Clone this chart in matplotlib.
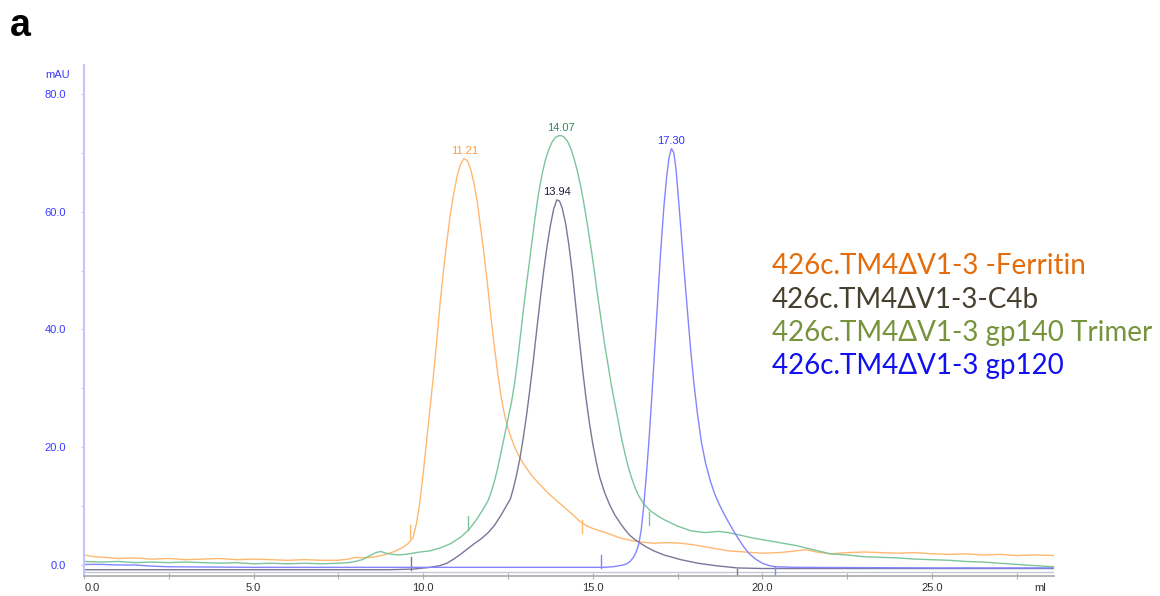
import matplotlib
matplotlib.use('Agg')
import matplotlib.pyplot as plt
from matplotlib.ticker import MultipleLocator, FormatStrFormatter, FuncFormatter

# ---------------- data (ml, mAU) ----------------
ferritin_x = [0.0, 0.3, 0.6, 1.0, 1.5, 2.0, 2.5, 3.0, 3.5, 4.0, 4.5, 5.0, 5.5, 6.0,
              6.5, 7.0, 7.5, 7.8, 8.0, 8.3, 8.6, 8.9, 9.2, 9.4, 9.55, 9.7, 9.8, 9.9,
              10.0, 10.1, 10.2, 10.3, 10.4, 10.5, 10.6, 10.7, 10.8, 10.9, 11.0, 11.1,
              11.2, 11.3, 11.4, 11.5, 11.6, 11.7, 11.8, 11.9, 12.0, 12.1, 12.2, 12.3,
              12.4, 12.5, 12.6, 12.7, 12.85, 13.0, 13.2, 13.4, 13.6, 13.8, 14.0, 14.2,
              14.4, 14.6, 14.8, 15.0, 15.2, 15.43, 15.8, 16.1, 16.4, 16.8, 17.2, 17.6,
              18.0, 18.5, 19.0, 19.5, 20.0, 20.5, 21.0, 21.3, 21.6, 22.0, 22.5, 23.0,
              23.5, 24.0, 24.5, 25.0, 25.5, 26.0, 26.5, 27.0, 27.5, 28.0, 28.6]
ferritin_y = [1.7, 1.4, 1.3, 1.1, 1.2, 1.0, 1.1, 0.9, 1.0, 1.1, 0.9, 1.0, 0.9, 0.8,
              0.9, 0.8, 0.8, 1.0, 1.3, 1.2, 1.4, 1.8, 2.4, 3.0, 3.6, 4.6, 7.0, 10.5,
              15.5, 21.0, 26.5, 32.0, 38.0, 44.5, 50.0, 55.0, 59.5, 63.0, 66.0, 68.0,
              69.0, 68.7, 67.2, 64.8, 61.5, 57.0, 52.5, 47.5, 42.0, 37.0, 32.5, 28.5,
              25.5, 23.2, 21.5, 20.0, 18.2, 16.8, 15.2, 13.9, 12.7, 11.6, 10.6, 9.6,
              8.6, 7.5, 6.7, 6.2, 5.8, 5.4, 4.6, 4.2, 3.9, 3.7, 3.8, 3.7,
              3.4, 2.9, 2.4, 2.2, 2.0, 2.1, 2.4, 2.6, 2.2, 1.9, 2.1, 2.2,
              2.1, 2.0, 2.1, 1.9, 1.8, 1.9, 1.7, 1.8, 1.6, 1.7, 1.6]

c4b_x = [0.0, 3.0, 6.0, 9.0, 9.7, 10.2, 10.5, 10.7, 10.9, 11.1, 11.3, 11.5, 11.7,
         11.9, 12.1, 12.3, 12.45, 12.57, 12.65, 12.75, 12.85, 12.95, 13.05, 13.15,
         13.25, 13.35, 13.45, 13.55, 13.65, 13.75, 13.85, 13.94, 14.02, 14.1, 14.2,
         14.3, 14.4, 14.5, 14.6, 14.7, 14.8, 14.9, 15.0, 15.1, 15.2, 15.35, 15.5,
         15.65, 15.8, 15.95, 16.1, 16.25, 16.4, 16.6, 16.8, 17.1, 17.6, 18.1, 18.6,
         19.26, 20.0, 24.0, 28.6]
c4b_y = [-0.8, -0.8, -0.8, -0.8, -0.7, -0.4, -0.1, 0.3, 1.0, 1.8, 2.7, 3.6, 4.4,
         5.4, 6.7, 8.5, 10.0, 11.2, 12.8, 15.2, 18.0, 21.5, 25.5, 30.0,
         34.8, 40.0, 45.0, 49.8, 54.0, 57.6, 60.5, 62.0, 61.8, 60.6, 58.0,
         54.2, 49.5, 44.0, 38.5, 33.2, 28.4, 24.2, 20.6, 17.6, 15.0, 12.3, 10.2,
         8.5, 7.2, 6.0, 5.0, 4.3, 3.7, 3.0, 2.4, 1.7, 0.9, 0.3, -0.1,
         -0.5, -0.6, -0.6, -0.6]

trimer_x = [0.0, 0.5, 1.0, 1.5, 2.0, 2.5, 3.0, 3.5, 4.0, 4.5, 5.0, 5.5, 6.0, 6.5,
            7.0, 7.5, 7.8, 8.0, 8.2, 8.4, 8.6, 8.75, 8.9, 9.1, 9.3, 9.6, 9.9, 10.2,
            10.5, 10.8, 11.1, 11.33, 11.55, 11.75, 11.92, 12.0, 12.1, 12.2, 12.3,
            12.4, 12.5, 12.6, 12.7, 12.8, 12.9, 13.0, 13.1, 13.2, 13.3, 13.4, 13.5,
            13.6, 13.7, 13.8, 13.9, 14.0, 14.07, 14.15, 14.25, 14.35, 14.45, 14.55,
            14.65, 14.75, 14.85, 14.95, 15.05, 15.15, 15.25, 15.35, 15.45, 15.55,
            15.65, 15.75, 15.85, 15.95, 16.05, 16.15, 16.25, 16.35, 16.5, 16.7,
            16.9, 17.1, 17.5, 17.9, 18.3, 18.7, 19.0, 19.4, 19.7, 20.0, 20.5, 21.0,
            21.5, 22.0, 22.5, 23.0, 23.5, 24.0, 24.5, 25.0, 25.5, 26.0, 26.5, 27.0,
            27.5, 28.0, 28.6]
trimer_y = [0.6, 0.5, 0.6, 0.4, 0.5, 0.4, 0.5, 0.4, 0.3, 0.4, 0.2, 0.3, 0.2, 0.3,
            0.2, 0.3, 0.4, 0.6, 0.9, 1.5, 2.1, 2.3, 2.0, 1.8, 1.7, 1.9, 2.2, 2.4,
            2.9, 3.6, 4.7, 5.9, 7.5, 9.3, 11.0, 12.3, 14.2, 16.5, 19.2,
            22.0, 24.8, 27.5, 31.0, 35.5, 40.5, 45.5, 50.0, 54.5, 59.0, 63.0, 66.2,
            68.7, 70.5, 71.8, 72.6, 72.9, 72.9, 72.7, 72.0, 70.8, 69.0, 66.8,
            64.2, 61.0, 57.5, 53.8, 49.8, 45.5, 41.5, 37.5, 34.0, 30.5,
            27.5, 24.5, 21.5, 18.9, 16.6, 14.7, 13.1, 11.8, 10.4, 9.2,
            8.4, 7.7, 6.6, 5.8, 5.5, 5.7, 5.5, 5.0, 4.6, 4.3, 3.8, 3.3,
            2.6, 1.9, 1.7, 1.4, 1.3, 1.2, 1.0, 0.9, 0.8, 0.6, 0.5, 0.3,
            0.1, -0.1, -0.3]

gp120_x = [0.0, 0.5, 1.0, 1.5, 2.0, 2.5, 5.0, 10.0, 15.3, 15.6, 15.9, 16.0, 16.1,
           16.2, 16.28, 16.36, 16.43, 16.5, 16.57, 16.65, 16.73, 16.81, 16.9, 17.0,
           17.1, 17.18, 17.25, 17.32, 17.39, 17.46, 17.53, 17.6, 17.68, 17.78, 17.88,
           17.98, 18.08, 18.2, 18.33, 18.47, 18.6, 18.73, 18.86, 19.0, 19.15, 19.3,
           19.45, 19.6, 19.8, 20.0, 20.2, 20.38, 21.0, 25.0, 28.6]
gp120_y = [0.1, 0.1, 0.0, 0.0, -0.2, -0.3, -0.4, -0.4, -0.4, -0.3, 0.0, 0.2, 0.6,
           1.3, 2.2, 3.6, 6.0, 9.8, 14.5, 20.5, 27.5, 35.0, 43.5, 53.0,
           61.0, 66.0, 69.2, 70.7, 70.0, 67.0, 62.0, 57.0, 51.0, 44.0, 37.0,
           31.0, 26.0, 21.0, 17.2, 14.2, 12.0, 10.3, 8.8, 7.3, 5.8, 4.4,
           3.1, 2.0, 1.0, 0.3, -0.1, -0.3, -0.4, -0.5, -0.5]

# fraction marks: position, low, high
ferritin_marks = [(9.62, 4.6, 6.8), (14.69, 5.4, 7.6)]
c4b_marks = [(9.64, -0.8, 1.4), (19.26, -2.0, -0.7)]
trimer_marks = [(11.33, 5.9, 8.3), (16.67, 6.8, 9.0)]
gp120_marks = [(15.25, -0.5, 1.7), (20.38, -2.0, -0.3)]

peak_pos = [11.21, 13.94, 14.07, 17.30]
peak_val = [69.0, 62.0, 72.9, 70.7]

legend_labels = ['426c.TM4\u0394V1-3 -Ferritin', '426c.TM4\u0394V1-3-C4b',
                 '426c.TM4\u0394V1-3 gp140 Trimer', '426c.TM4\u0394V1-3 gp120']

# ---------------- styles ----------------
line_cols = ['#ffb870', '#777799', '#7cc59c', '#8484ff']
peak_cols = ['#ff9a3c', '#1c1c3c', '#2e8b57', '#3030ff']
legend_cols = ['#e46c0a', '#46412e', '#77933c', '#1010f0']

plt.rcParams['font.family'] = ['Liberation Sans', 'DejaVu Sans']

fig = plt.figure(figsize=(11.6, 5.96), dpi=100)
ax = fig.add_axes([84 / 1160, 1 - 576 / 596, (1054 - 84) / 1160, (576 - 65) / 596])

series = [(ferritin_x, ferritin_y, ferritin_marks),
          (c4b_x, c4b_y, c4b_marks),
          (trimer_x, trimer_y, trimer_marks),
          (gp120_x, gp120_y, gp120_marks)]

ax.axhline(-1.2, color='#c8c8d4', lw=1.0, zorder=1)
for i, (xs, ys, marks) in enumerate(series):
    ax.plot(xs, ys, color=line_cols[i], lw=1.0, zorder=2)
    for m in marks:
        ax.plot([m[0], m[0]], [m[1], m[2]], color=line_cols[i], lw=1.0, zorder=2)
    ax.annotate('%.2f' % peak_pos[i], xy=(peak_pos[i], peak_val[i]),
                xytext=(0, 2), textcoords='offset points', ha='center', va='bottom',
                fontsize=8, color=peak_cols[i])

ax.set_xlim(0, 28.6)
ax.set_ylim(-1.87, 84.9)

for s in ['top', 'right']:
    ax.spines[s].set_visible(False)
ax.spines['left'].set_color('#c4c4ff')
ax.spines['left'].set_linewidth(1.5)
ax.spines['bottom'].set_color('#a8a8a8')
ax.spines['bottom'].set_linewidth(1.2)

# the 0.0 label sits to the right of its tick, drawn separately below
ax.xaxis.set_major_locator(MultipleLocator(5))
ax.xaxis.set_minor_locator(MultipleLocator(2.5))
ax.xaxis.set_major_formatter(FuncFormatter(lambda v, p: '' if abs(v) < 1e-9 else '%.1f' % v))
ax.yaxis.set_major_locator(MultipleLocator(20))
ax.yaxis.set_minor_locator(MultipleLocator(10))
ax.yaxis.set_major_formatter(FormatStrFormatter('%.1f'))

ax.tick_params(axis='x', which='both', direction='inout', length=4, width=0.8,
               color='#b0b0b0', labelsize=8, labelcolor='#303030', pad=3)
ax.tick_params(axis='y', which='both', direction='out', length=2, width=0.8,
               color='#c4c4ff', labelsize=8, labelcolor='#3a3aff', pad=11)

ax.annotate('0.0', xy=(0, -1.87), xytext=(0.5, -5), textcoords='offset points',
            ha='left', va='top', fontsize=8, color='#303030')
ax.annotate('ml', xy=(28.2, -1.87), xytext=(0, -5), textcoords='offset points',
            ha='center', va='top', fontsize=8, color='#303030')
ax.annotate('mAU', xy=(0, 83.2), xytext=(-10, 0), textcoords='offset points',
            ha='right', va='center', fontsize=8, color='#3a3aff')

fig.text(10 / 1160, 1 - 26 / 596, 'a', fontsize=27, fontweight='bold',
         ha='left', va='center', color='black')

legend_y = [266, 300, 333, 366]
for i, lab in enumerate(legend_labels):
    fig.text(772 / 1160, 1 - legend_y[i] / 596, lab, fontsize=20,
             family=['Lato', 'Noto Sans', 'DejaVu Sans'],
             color=legend_cols[i], ha='left', va='center')

fig.savefig('out.png', dpi=100)
